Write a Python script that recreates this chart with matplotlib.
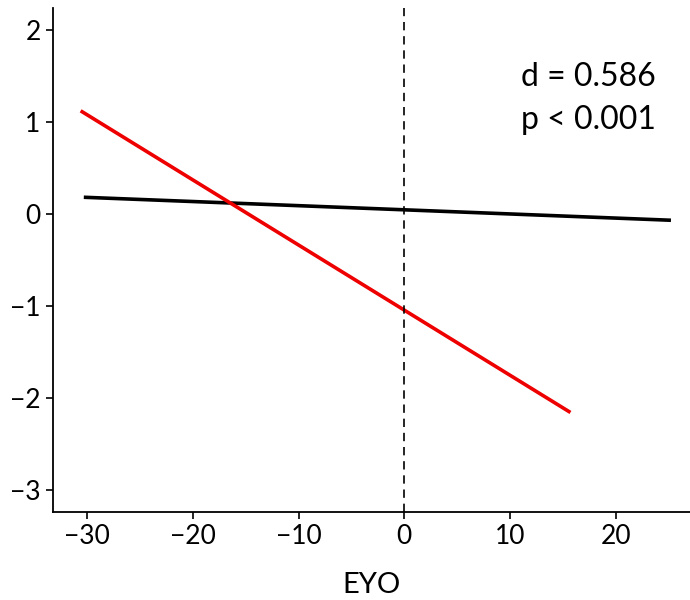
import matplotlib
matplotlib.use("Agg")
import matplotlib.pyplot as plt

plt.rcParams["font.family"] = ["Lato", "DejaVu Sans"]

# fitted lines (endpoints)
black_x = [-30.3, 25.2]
black_y = [0.18, -0.07]
red_x = [-30.6, 15.7]
red_y = [1.12, -2.16]

x_ticks = [-30, -20, -10, 0, 10, 20]
y_ticks = [-3, -2, -1, 0, 1, 2]
stats_text = "d = 0.586\np < 0.001"

fig = plt.figure(figsize=(6.9, 6.0), dpi=100)
ax = fig.add_axes([0.077, 0.147, 0.923, 0.84])

ax.plot(black_x, black_y, color="black", lw=2.6, solid_capstyle="butt")
ax.plot(red_x, red_y, color="#ee0000", lw=2.6, solid_capstyle="butt")
ax.axvline(0, color="black", lw=1.2, ls=(0, (5, 3.5)))

ax.set_xlim(-33.2, 27)
ax.set_ylim(-3.24, 2.24)
ax.set_xticks(x_ticks)
ax.set_yticks(y_ticks)
ax.set_xticklabels(["\u2212" + str(-t) if t < 0 else str(t) for t in x_ticks])
ax.set_yticklabels(["\u2212" + str(-t) if t < 0 else str(t) for t in y_ticks])
ax.tick_params(labelsize=19, length=5, width=1.2, pad=4)
ax.set_xlabel("EYO", fontsize=21, labelpad=16)

for side in ["top", "right"]:
    ax.spines[side].set_visible(False)
for side in ["left", "bottom"]:
    ax.spines[side].set_linewidth(1.3)

ax.text(11.0, 1.25, stats_text, fontsize=23, ha="left", va="center",
        linespacing=1.55)

fig.savefig("out.png", dpi=100)
